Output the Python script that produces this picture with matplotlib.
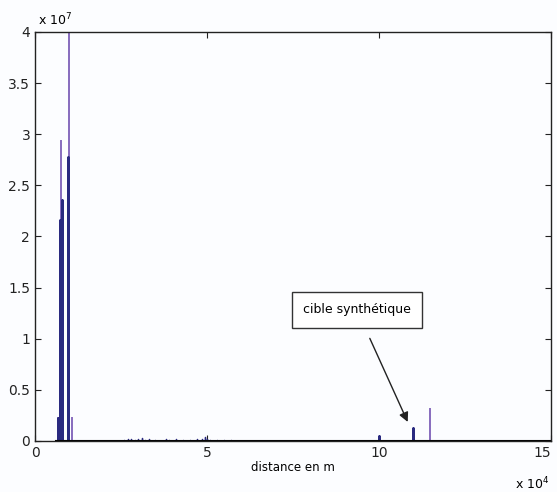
import numpy as np
import matplotlib
matplotlib.use('Agg')
import matplotlib.pyplot as plt

# spikes, x in units of 1e4 m, height in units of 1e7
dark_x = [0.66, 0.72, 0.77, 0.97, 10.0, 11.0]
dark_h = [0.22, 2.16, 2.36, 2.78, 0.05, 0.13]
light_x = [0.68, 0.74, 0.76, 1.00, 1.07, 11.48]
light_h = [0.22, 0.12, 2.93, 4.00, 0.22, 0.31]

# small echoes between 2.6 and 5.8
noise_x = [2.6, 2.7, 2.8, 2.9, 3.0, 3.1, 3.2, 3.3, 3.5, 3.8, 3.9, 4.1, 4.3,
           4.5, 4.7, 4.85, 4.95, 5.0, 5.1, 5.3, 5.5, 5.7]
noise_h = [0.01, 0.02, 0.02, 0.01, 0.02, 0.03, 0.01, 0.02, 0.01, 0.02, 0.01,
           0.02, 0.01, 0.01, 0.02, 0.02, 0.04, 0.02, 0.01, 0.01, 0.01, 0.01]

x_start, x_end = 0.6, 15.0
target_label = 'cible synthétique'


def spikes(xs, hs):
    # builds a signal that goes up and back down for each spike
    px, py = [x_start], [0]
    for x, h in sorted(zip(xs, hs)):
        px += [x, x, x]
        py += [0, h, 0]
    px.append(x_end)
    py.append(0)
    return px, py


fig = plt.figure(figsize=(5.57, 4.92), dpi=100)
fig.patch.set_facecolor('#fcfdff')
ax = fig.add_axes([0.063, 0.104, 0.926, 0.831])
ax.set_facecolor('#fcfdff')

navy = '#2a2a80'
purple = '#8a6fbf'

lx, ly = spikes(light_x, light_h)
ax.plot(lx, ly, color=purple, lw=1.2)
dx, dy = spikes(dark_x, dark_h)
ax.plot(dx, dy, color=navy, lw=1.8)
nx, ny = spikes(noise_x, noise_h)
ax.plot(nx, ny, color=navy, lw=1.0)
ax.plot([x_start, x_end], [0, 0], color='black', lw=1.5)

ax.set_xlim(0, 15)
ax.set_ylim(0, 4)
ax.set_xticks([0, 5, 10, 15])
ax.set_xticklabels(['0', '5', '10', '15'])
ax.get_xticklabels()[-1].set_horizontalalignment('right')
ax.set_yticks([0, 0.5, 1, 1.5, 2, 2.5, 3, 3.5, 4])
ax.set_yticklabels(['0', '0.5', '1', '1.5', '2', '2.5', '3', '3.5', '4'])
ax.tick_params(direction='in', top=True, right=True, labelsize=10,
               length=4, width=0.8, colors='#222222')
ax.xaxis.get_majorticklabels()[-1].set_x(14.98)
for s in ax.spines.values():
    s.set_linewidth(1.0)
    s.set_color('#222222')

ax.set_xlabel('distance en m', fontsize=8.5, labelpad=1)
ax.text(0.005, 1.01, r'x 10$^7$', transform=ax.transAxes, fontsize=9,
        va='bottom', ha='left')
ax.text(0.998, -0.085, r'x 10$^4$', transform=ax.transAxes, fontsize=9,
        va='top', ha='right')

ax.annotate(target_label, xy=(10.87, 0.16), xytext=(9.36, 1.28),
            fontsize=9, ha='center', va='center',
            bbox=dict(boxstyle='square,pad=0.9', fc='white', ec='#333333', lw=1),
            arrowprops=dict(arrowstyle='-|>', color='#222222', lw=1,
                            mutation_scale=14, shrinkA=8))

fig.savefig('out.png', dpi=100, facecolor=fig.get_facecolor())
